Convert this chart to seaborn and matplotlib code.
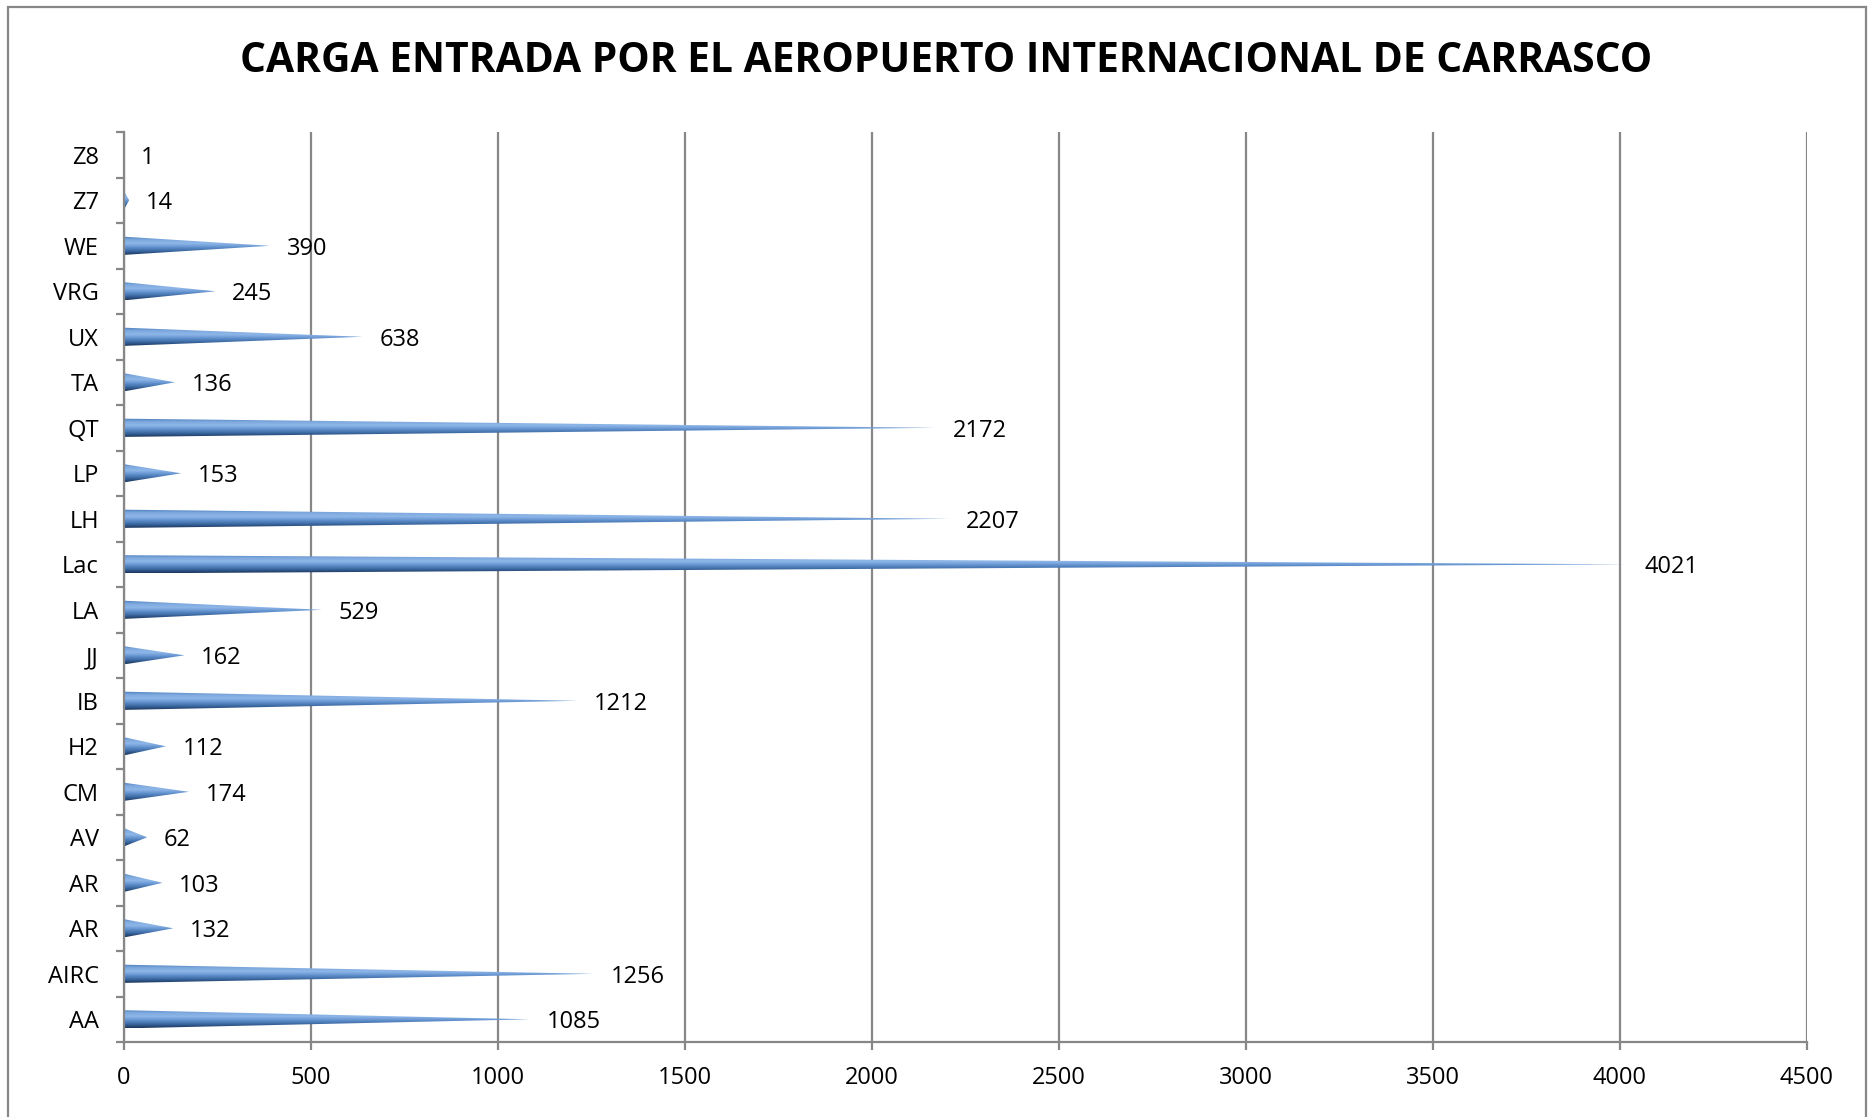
import numpy as np
import pandas as pd
import matplotlib
matplotlib.use("Agg")
import matplotlib.pyplot as plt
from matplotlib.patches import Polygon, Rectangle
import seaborn as sns

# datos (de arriba hacia abajo, como se ve en el gráfico)
aerolineas = ["Z8", "Z7", "WE", "VRG", "UX", "TA", "QT", "LP", "LH", "Lac",
              "LA", "JJ", "IB", "H2", "CM", "AV", "AR", "AR", "AIRC", "AA"]
carga = [1, 14, 390, 245, 638, 136, 2172, 153, 2207, 4021,
         529, 162, 1212, 112, 174, 62, 103, 132, 1256, 1085]
x_ticks = [0, 500, 1000, 1500, 2000, 2500, 3000, 3500, 4000, 4500]
titulo = "CARGA ENTRADA POR EL AEROPUERTO INTERNACIONAL DE CARRASCO"

df = pd.DataFrame({"pos": np.arange(len(aerolineas)), "carga": carga})

sns.set_style("white")
plt.rcParams["font.family"] = ["Open Sans", "DejaVu Sans"]

fig = plt.figure(figsize=(18.7, 11.17), dpi=100)
ax = fig.add_axes([0.0663, 0.0671, 0.9, 0.8147])

sns.barplot(data=df, x="carga", y="pos", orient="h", width=0.40,
            color="#4F81BD", ax=ax)

# conos con degradado en lugar de barras
grad_cols = np.array([
    [0x4A, 0x7E, 0xBB], [0x7F, 0xAA, 0xE0], [0x8E, 0xB6, 0xE8],
    [0x5F, 0x8F, 0xCC], [0x3A, 0x67, 0xA0], [0x1C, 0x36, 0x5C],
]) / 255.0
stops = np.linspace(0, 1, len(grad_cols))
t = np.linspace(0, 1, 64)
grad = np.stack([np.interp(t, stops, grad_cols[:, k]) for k in range(3)], axis=1)
grad_img = np.repeat(grad[:, None, :], 2, axis=1)

for p in list(ax.patches):
    x0, y0, w, h = p.get_x(), p.get_y(), p.get_width(), p.get_height()
    p.set_visible(False)
    if w <= 0:
        continue
    cone = Polygon([(x0, y0), (x0 + w, y0 + h / 2), (x0, y0 + h)],
                   closed=True, facecolor="none", edgecolor="none")
    ax.add_patch(cone)
    im = ax.imshow(grad_img, extent=(x0, x0 + w, y0 + h, y0), origin="upper",
                   aspect="auto", interpolation="bilinear", zorder=2)
    im.set_clip_path(cone)

for i, v in enumerate(carga):
    ax.annotate(str(v), xy=(v, i), xytext=(12, 0), textcoords="offset points",
                va="center_baseline", ha="left", fontsize=17, color="black")

n = len(aerolineas)
ax.set_xlim(0, 4500)
ax.set_ylim(n - 0.5, -0.5)
ax.set_xticks(x_ticks)
ax.set_xticklabels([str(x) for x in x_ticks], fontsize=17)
ax.set_yticks(np.arange(n))
ax.set_yticklabels(aerolineas, fontsize=17)
ax.set_yticks(np.arange(n + 1) - 0.5, minor=True)
ax.set_xlabel("")
ax.set_ylabel("")

gris = "#878787"
ax.xaxis.grid(True, color=gris, linewidth=1.6)
ax.yaxis.grid(False)
ax.set_axisbelow(True)
for s in ["top", "right"]:
    ax.spines[s].set_visible(False)
for s in ["left", "bottom"]:
    ax.spines[s].set_color(gris)
    ax.spines[s].set_linewidth(1.6)

ax.tick_params(axis="y", which="major", length=0, pad=18, colors="black")
ax.tick_params(axis="y", which="minor", length=6, width=1.6, color=gris, left=True)
ax.tick_params(axis="x", which="major", length=6, width=1.6, color=gris,
               pad=11, bottom=True, labelcolor="black")

fig.text(0.506, 0.945, titulo, ha="center", va="center", fontsize=29.3,
         fontweight="bold", color="black")

# marco del área del gráfico
fig.patches.append(Rectangle((0.0043, -0.01), 0.9935, 1.0037, transform=fig.transFigure,
                             fill=False, edgecolor=gris, linewidth=1.6))

fig.savefig("out.png", dpi=100)
